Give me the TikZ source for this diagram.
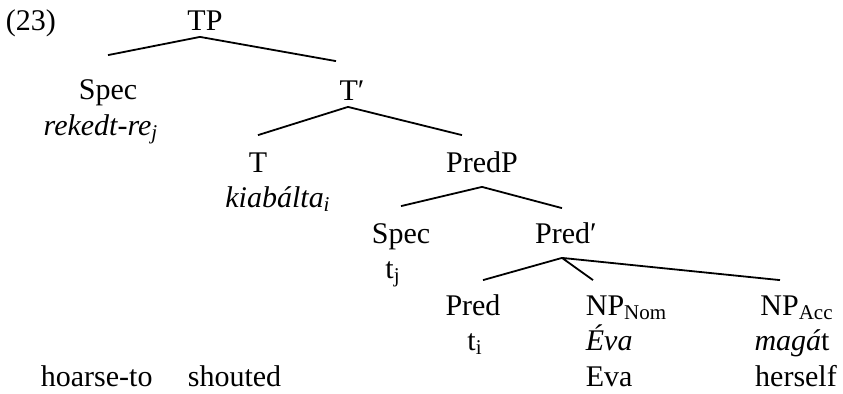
\documentclass[tikz,border=0pt]{standalone}
\usepackage{fontspec}
\setmainfont{Liberation Serif}

\begin{document}
\begin{tikzpicture}[x=0.5pt,y=-0.5pt,line width=0.9pt,
    every node/.style={font=\fontsize{15}{18}\selectfont},
    cat/.style={anchor=base,inner sep=0pt,text height=18pt,text depth=3pt},
    lex/.style={anchor=base,inner sep=0pt}]
\useasboundingbox (0,0) rectangle (843,393);
% labels of the tree
\node[lex,anchor=base west] (ex) at (5,30) {(23)};
\node[cat] (TP) at (205,30) {TP};
\node[cat] (specA) at (108,99) {Spec};
\node[lex] (rekedt) at (101,135) {\textit{rekedt-re\textsubscript{j}}};
\node[cat] (Tbar) at (352,100) {T′};
\node[cat] (T) at (258,172) {T};
\node[lex] (kiab) at (278,207) {\textit{kiabálta\textsubscript{i}}};
\node[cat] (PredP) at (482,172) {PredP};
\node[cat] (specB) at (401,243) {Spec};
\node[lex] (tj) at (393,278) {t\textsubscript{j}};
\node[cat] (Predbar) at (566,243) {Pred′};
\node[cat] (Pred) at (473,315) {Pred};
\node[lex] (ti) at (475,350) {t\textsubscript{i}};
\node[cat,anchor=base west] (NPnom) at (585,315) {NP\textsubscript{Nom}};
\node[lex,anchor=base west] (Eva) at (585,350) {\textit{Éva}};
\node[cat] (NPacc) at (797,315) {NP\textsubscript{Acc}};
\node[lex] (magat) at (792,350) {\textit{magá}t};
% glosses
\node[lex,anchor=base west] (hoarse) at (40,386) {hoarse-to};
\node[lex,anchor=base west] (shouted) at (187,386) {shouted};
\node[lex,anchor=base west] (glEva) at (585,386) {Eva};
\node[lex] (herself) at (796,386) {herself};
% branches
\draw ([xshift=-2.5pt]TP.south) -- ([yshift=3.5pt]specA.north)
      ([xshift=-2.5pt]TP.south) -- ([xshift=-8pt,yshift=1pt]Tbar.north)
      ([xshift=-2pt]Tbar.south) -- (T.north)
      ([xshift=-2pt]Tbar.south) -- ([xshift=-10pt]PredP.north)
      ([yshift=-4pt]PredP.south) -- (specB.north)
      ([yshift=-4pt]PredP.south) -- ([xshift=-2pt,yshift=-1pt]Predbar.north)
      ([xshift=-2pt,yshift=-4pt]Predbar.south) -- ([xshift=5pt,yshift=-1pt]Pred.north)
      ([xshift=-2pt,yshift=-4pt]Predbar.south) -- ([xshift=4pt,yshift=-1pt]NPnom.north west)
      ([xshift=-2pt,yshift=-4pt]Predbar.south) -- ([xshift=-8.5pt,yshift=-1pt]NPacc.north);
\end{tikzpicture}
\end{document}
